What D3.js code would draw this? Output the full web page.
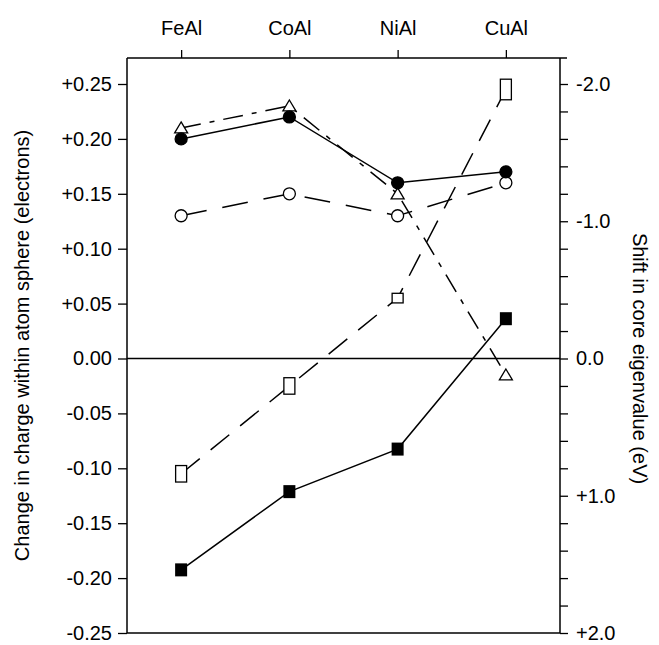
<!DOCTYPE html>
<html>
<head>
<meta charset="utf-8">
<script src="https://cdn.jsdelivr.net/npm/d3@7"></script>
<style>
  body { margin: 0; background: white; }
  text { font-family: "Liberation Sans", Arial, sans-serif; fill: black; }
</style>
</head>
<body>
<script>
// alloys along the top axis
var alloys = ["FeAl", "CoAl", "NiAl", "CuAl"];

// change in charge within atom sphere (electrons), left axis
var chargeFilledCircle = [0.20, 0.22, 0.16, 0.17];
var chargeOpenCircle = [0.13, 0.15, 0.13, 0.16];
var chargeOpenTriangle = [0.21, 0.23, 0.15, -0.015];

// shift in core eigenvalue (eV), right axis
var shiftFilledSquare = [1.54, 0.97, 0.66, -0.29];
var shiftOpenSquare = [0.84, 0.20, -0.44, -1.96];
var shiftOpenSquareSpread = [0.12, 0.12, 0.07, 0.15]; // height of the open boxes, eV

var leftTicks = [0.25, 0.20, 0.15, 0.10, 0.05, 0, -0.05, -0.10, -0.15, -0.20, -0.25];
var rightTicks = d3.range(-20, 21, 2).map(function(d) { return d / 10; });

var width = 659,
    height = 645;

var box = { left: 127, right: 560, top: 58, bottom: 633 };

var svg = d3.select("body").append("svg")
  .attr("width", width)
  .attr("height", height);

var x = d3.scalePoint()
  .domain(alloys)
  .range([box.left, box.right])
  .padding(0.5);

var y = d3.scaleLinear()
  .domain([-0.25, 0.25])
  .range([633, 84]);

var yShift = d3.scaleLinear()
  .domain([2, -2])
  .range([633, 84]);

function signed(d, digits) {
  if (Math.abs(d) < 1e-9) return (0).toFixed(digits);
  return (d > 0 ? "+" : "-") + Math.abs(d).toFixed(digits);
}

// box frame
var frame = svg.append("g")
  .attr("stroke", "black")
  .attr("stroke-width", 1.5)
  .attr("fill", "none");
frame.append("line").attr("x1", box.left).attr("x2", box.left).attr("y1", box.top).attr("y2", box.bottom);
frame.append("line").attr("x1", box.right).attr("x2", box.right).attr("y1", box.top).attr("y2", box.bottom);
frame.append("line").attr("x1", box.left).attr("x2", box.right + 7).attr("y1", box.top).attr("y2", box.top);
frame.append("line").attr("x1", box.left).attr("x2", box.right).attr("y1", box.bottom).attr("y2", box.bottom);

// zero line
svg.append("line")
  .attr("x1", box.left).attr("x2", box.right)
  .attr("y1", y(0)).attr("y2", y(0))
  .attr("stroke", "black")
  .attr("stroke-width", 1.3);

// top category axis
var topAxis = svg.append("g")
  .attr("transform", "translate(0," + box.top + ")")
  .call(d3.axisTop(x).tickSize(8).tickSizeOuter(0).tickPadding(15));

// left axis
var leftAxis = svg.append("g")
  .attr("transform", "translate(" + box.left + ",0)")
  .call(d3.axisLeft(y).tickValues(leftTicks).tickSize(9).tickPadding(6)
    .tickFormat(function(d) { return signed(d, 2); }));

// right axis
var rightAxis = svg.append("g")
  .attr("transform", "translate(" + box.right + ",0)")
  .call(d3.axisRight(yShift).tickValues(rightTicks).tickSize(8).tickPadding(8)
    .tickFormat(function(d) { return Math.abs(d - Math.round(d)) < 1e-6 ? signed(d, 1) : ""; }));

[topAxis, leftAxis, rightAxis].forEach(function(ax) {
  ax.select(".domain").remove();
  ax.selectAll(".tick line").attr("stroke", "black").attr("stroke-width", 1.3);
  ax.selectAll(".tick text")
    .attr("fill", "black")
    .style("font-family", "'Liberation Sans', Arial, sans-serif")
    .style("font-size", "20px");
});

// axis titles
svg.append("text")
  .attr("transform", "translate(24," + ((box.top + box.bottom) / 2) + ") rotate(-90)")
  .attr("text-anchor", "middle")
  .attr("dominant-baseline", "middle")
  .style("font-size", "20px")
  .text("Change in charge within atom sphere (electrons)");

svg.append("text")
  .attr("transform", "translate(638," + y(0) + ") rotate(90)")
  .attr("text-anchor", "middle")
  .attr("dominant-baseline", "middle")
  .style("font-size", "20px")
  .text("Shift in core eigenvalue (eV)");

// series
var series = [
  { values: chargeOpenCircle, scale: y, dash: "26,16", marker: "openCircle" },
  { values: shiftOpenSquare, scale: yShift, dash: "24,14", marker: "openSquare", spread: shiftOpenSquareSpread },
  { values: chargeOpenTriangle, scale: y, dash: "20,9,5,9", marker: "triangle" },
  { values: chargeFilledCircle, scale: y, dash: null, marker: "filledCircle" },
  { values: shiftFilledSquare, scale: yShift, dash: null, marker: "filledSquare" }
];

var line = d3.line();

series.forEach(function(s) {
  var pts = s.values.map(function(v, i) { return [x(alloys[i]), s.scale(v)]; });

  svg.append("path")
    .attr("d", line(pts))
    .attr("fill", "none")
    .attr("stroke", "black")
    .attr("stroke-width", 1.5)
    .attr("stroke-dasharray", s.dash);

  var g = svg.append("g");
  pts.forEach(function(p, i) {
    if (s.marker === "openCircle" || s.marker === "filledCircle") {
      g.append("circle")
        .attr("cx", p[0]).attr("cy", p[1]).attr("r", 6)
        .attr("fill", s.marker === "filledCircle" ? "black" : "white")
        .attr("stroke", "black").attr("stroke-width", 1.3);
    } else if (s.marker === "triangle") {
      g.append("path")
        .attr("d", "M" + p[0] + "," + (p[1] - 6) + "L" + (p[0] + 6.5) + "," + (p[1] + 5) + "L" + (p[0] - 6.5) + "," + (p[1] + 5) + "Z")
        .attr("fill", "white")
        .attr("stroke", "black").attr("stroke-width", 1.3);
    } else if (s.marker === "openSquare") {
      var h = Math.abs(yShift(0) - yShift(s.spread[i]));
      g.append("rect")
        .attr("x", p[0] - 5.5).attr("y", p[1] - h / 2)
        .attr("width", 11).attr("height", h)
        .attr("fill", "white")
        .attr("stroke", "black").attr("stroke-width", 1.3);
    } else {
      g.append("rect")
        .attr("x", p[0] - 6).attr("y", p[1] - 6.5)
        .attr("width", 12).attr("height", 13)
        .attr("fill", "black");
    }
  });
});
</script>
</body>
</html>
